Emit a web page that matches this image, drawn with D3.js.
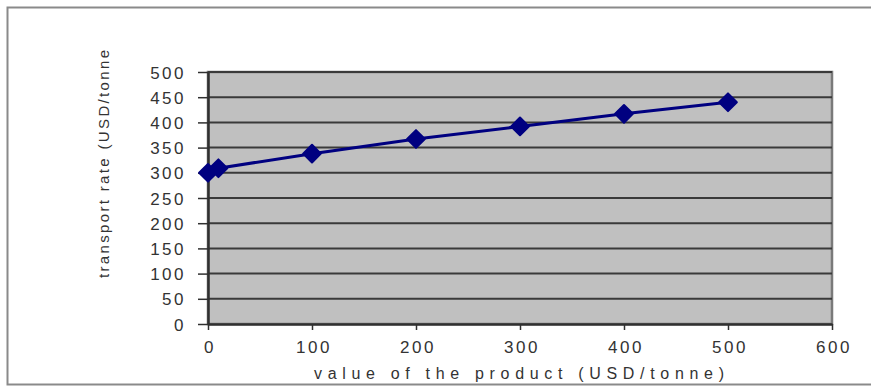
<!DOCTYPE html>
<html><head><meta charset="utf-8">
<script src="https://cdn.jsdelivr.net/npm/d3@7"></script>
<style>body{margin:0;background:#fff;}svg{display:block;}</style>
</head><body>
<svg id="c" width="871" height="388"></svg>
<script>
const xValues = [0, 10, 100, 200, 300, 400, 500];
const yValues = [300, 309, 338, 367, 392, 417, 440];
const yTicks = [0, 50, 100, 150, 200, 250, 300, 350, 400, 450, 500];
const xTicks = [0, 100, 200, 300, 400, 500, 600];
const xTitle = "value of the product (USD/tonne)";
const yTitle = "transport rate (USD/tonne";

const svg = d3.select("#c");
svg.append("rect").attr("x", 7.5).attr("y", 7.5).attr("width", 880).attr("height", 377)
  .attr("fill", "#fff").attr("stroke", "#8a8a8a").attr("stroke-width", 2);

const L = 208, R = 832, T = 72, B = 324;
const x = d3.scaleLinear().domain([0, 600]).range([L, R]);
const y = d3.scaleLinear().domain([0, 500]).range([B, T]);

svg.append("rect").attr("x", L).attr("y", T).attr("width", R - L).attr("height", B - T)
  .attr("fill", "#c0c0c0").attr("stroke", "#7a7a7a").attr("stroke-width", 2.5);

svg.append("g").selectAll("line").data(yTicks.filter(d => d > 0)).join("line")
  .attr("x1", L).attr("x2", R).attr("y1", d => y(d)).attr("y2", d => y(d))
  .attr("stroke", "#3a3a3a").attr("stroke-width", 2);

const font = "Arial, 'Liberation Sans', sans-serif";
const yAxis = svg.append("g").attr("transform", `translate(${L},0)`)
  .call(d3.axisLeft(y).tickValues(yTicks).tickSize(10).tickPadding(14).tickSizeOuter(0));
const xAxis = svg.append("g").attr("transform", `translate(0,${B})`)
  .call(d3.axisBottom(x).tickValues(xTicks).tickSize(6).tickPadding(11).tickSizeOuter(0));
[yAxis, xAxis].forEach(g => {
  g.select(".domain").attr("stroke", "#303030").attr("stroke-width", 2.5);
  g.selectAll(".tick line").attr("stroke", "#303030").attr("stroke-width", 1.5);
  g.selectAll("text").attr("font-family", font).attr("font-size", 17).attr("fill", "#333")
    .attr("letter-spacing", "2.5px");
});
yAxis.selectAll("text").attr("dy", "0.36em").attr("dx", "2px");
xAxis.selectAll("text").attr("dx", "1.5px");

svg.append("text").attr("x", 519).attr("y", 379).attr("text-anchor", "middle")
  .attr("font-family", font).attr("font-size", 16).attr("fill", "#333")
  .attr("textLength", 410).attr("lengthAdjust", "spacing")
  .text(xTitle);
svg.append("text").attr("transform", "translate(109,278) rotate(-90)").attr("text-anchor", "start")
  .attr("font-family", font).attr("font-size", 15).attr("fill", "#333").attr("textLength", 228)
  .attr("lengthAdjust", "spacing")
  .text(yTitle);

const pts = xValues.map((v, i) => [v, yValues[i]]);
svg.append("path").datum(pts)
  .attr("d", d3.line().x(d => x(d[0])).y(d => y(d[1])))
  .attr("fill", "none").attr("stroke", "#000080").attr("stroke-width", 3);
svg.append("g").selectAll("path").data(pts).join("path")
  .attr("transform", d => `translate(${x(d[0])},${y(d[1])})`)
  .attr("d", d3.symbol(d3.symbolDiamond2, 200)).attr("fill", "#000080")
  .attr("stroke", "#000080").attr("stroke-width", 2).attr("stroke-linejoin", "round");
</script>
</body></html>
